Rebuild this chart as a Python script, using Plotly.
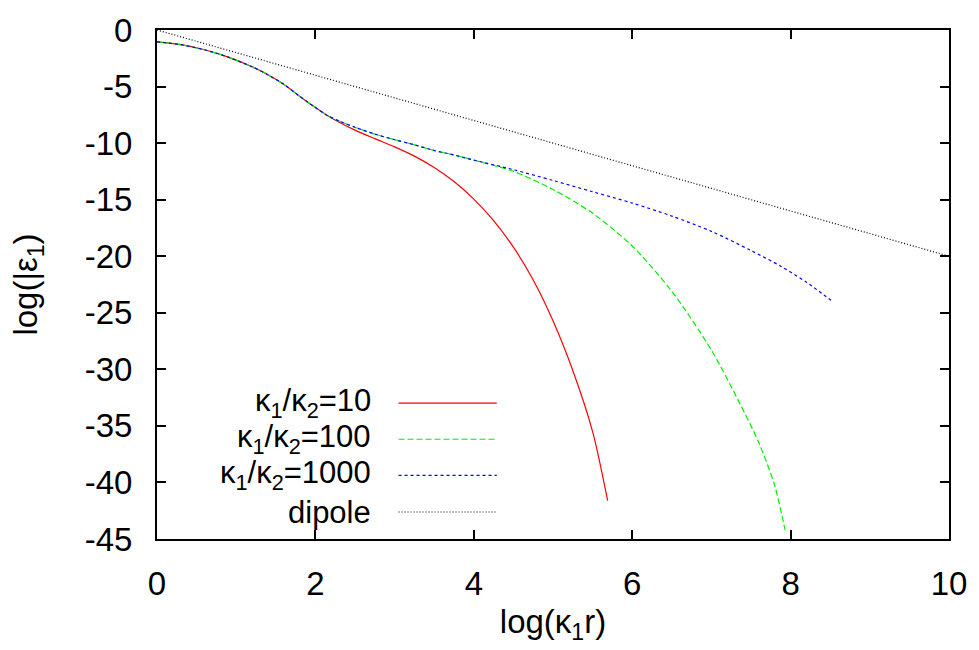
import plotly.graph_objects as go

# log(kappa1 r) sample points for each curve
# shared part (all three ratios coincide at small r)
x_common = [0.0, 0.3, 0.6, 0.9, 1.2, 1.4, 1.6, 1.8, 2.0, 2.15]
y_common = [-1.05, -1.3, -1.75, -2.4, -3.25, -3.95, -4.8, -5.85, -6.85, -7.55]

x_r10 = [2.3, 2.5, 2.75, 3.0, 3.25, 3.5, 3.75, 4.0, 4.25, 4.5, 4.75, 5.0, 5.25, 5.5, 5.69]
y_r10 = [-8.15, -8.85, -9.6, -10.33, -11.15, -12.15, -13.4, -14.95, -16.85, -19.2, -22.1, -25.7, -30.1, -35.5, -41.6]

# kappa1/kappa2 = 100 and 1000 share the same path up to log(kappa1 r) ~ 4
x_mid = [2.3, 2.5, 2.75, 3.0, 3.25, 3.5, 3.75, 4.0]
y_mid = [-8.05, -8.6, -9.2, -9.7, -10.15, -10.65, -11.05, -11.5]

x_r100 = [4.5, 5.0, 5.5, 6.0, 6.5, 7.0, 7.35, 7.6, 7.8, 7.93]
y_r100 = [-12.5, -14.1, -16.2, -19.1, -23.1, -28.3, -32.9, -36.5, -40.3, -44.2]

x_r1000 = [4.5, 5.0, 5.5, 6.0, 6.5, 7.0, 7.5, 7.88, 8.2, 8.51]
y_r1000 = [-12.35, -13.3, -14.3, -15.3, -16.45, -17.8, -19.5, -20.9, -22.3, -23.9]

x_dipole = [0.0, 10.0]
y_dipole = [0.0, -20.0]

x_ticks = [0, 2, 4, 6, 8, 10]
x_ticktext = ["0", "2", "4", "6", "8", "10"]
y_ticks = [0, -5, -10, -15, -20, -25, -30, -35, -40, -45]
y_ticktext = ["0", "-5", "-10", "-15", "-20", "-25", "-30", "-35", "-40", "-45"]

series = [
    ("κ<sub>1</sub>/κ<sub>2</sub>=10", x_common + x_r10, y_common + y_r10, "#ff0000", "solid"),
    ("κ<sub>1</sub>/κ<sub>2</sub>=100", x_common + x_mid + x_r100, y_common + y_mid + y_r100, "#00ee00", "6px,3px"),
    ("κ<sub>1</sub>/κ<sub>2</sub>=1000", x_common + x_mid + x_r1000, y_common + y_mid + y_r1000, "#0000ff", "3px,3px"),
    ("dipole", x_dipole, y_dipole, "#000000", "1px,2px"),
]

FONT = "Liberation Sans, Arial, Helvetica, sans-serif"
FS = 33
KEY_FS = 31

fig = go.Figure()
for name, xs, ys, color, dash in series:
    fig.add_trace(go.Scatter(
        x=xs, y=ys, mode="lines", name=name, showlegend=False,
        line=dict(color=color, width=1.2, dash=dash, shape="spline", smoothing=0.8),
    ))

# gnuplot-style key: right-aligned text with the line sample to its right
key_y = [0.267, 0.196, 0.125, 0.053]
for (name, _, _, color, dash), ky in zip(series, key_y):
    fig.add_annotation(
        x=0.272, y=ky, xref="paper", yref="paper", text=name, showarrow=False,
        xanchor="right", yanchor="middle", borderpad=0,
        font=dict(size=KEY_FS, color="black", family=FONT),
    )
    fig.add_shape(
        type="line", xref="paper", yref="paper", x0=0.305, x1=0.429, y0=ky, y1=ky,
        line=dict(color=color, width=1.2, dash=dash),
    )

axis_common = dict(
    showline=True, linecolor="black", linewidth=2, mirror="ticks",
    ticks="inside", ticklen=9, tickwidth=1.5, tickcolor="black",
    showgrid=False, zeroline=False,
    tickfont=dict(size=FS, color="black", family=FONT),
)

fig.update_layout(
    width=979, height=650,
    margin=dict(l=157, r=29, t=25, b=111),
    paper_bgcolor="white", plot_bgcolor="white",
    font=dict(family=FONT, color="black"),
    xaxis=dict(
        range=[0, 10], tickmode="array", tickvals=x_ticks, ticktext=x_ticktext,
        ticklabelstandoff=14,
        title=dict(text="log(κ<sub>1</sub>r)", font=dict(size=FS, family=FONT), standoff=9),
        **axis_common,
    ),
    yaxis=dict(
        range=[-45, 0], tickmode="array", tickvals=y_ticks, ticktext=y_ticktext,
        ticklabelstandoff=16,
        title=dict(text="log(|ε<sub>1</sub>)", font=dict(size=FS, family=FONT), standoff=37),
        **axis_common,
    ),
)

fig.write_html("out.html")
